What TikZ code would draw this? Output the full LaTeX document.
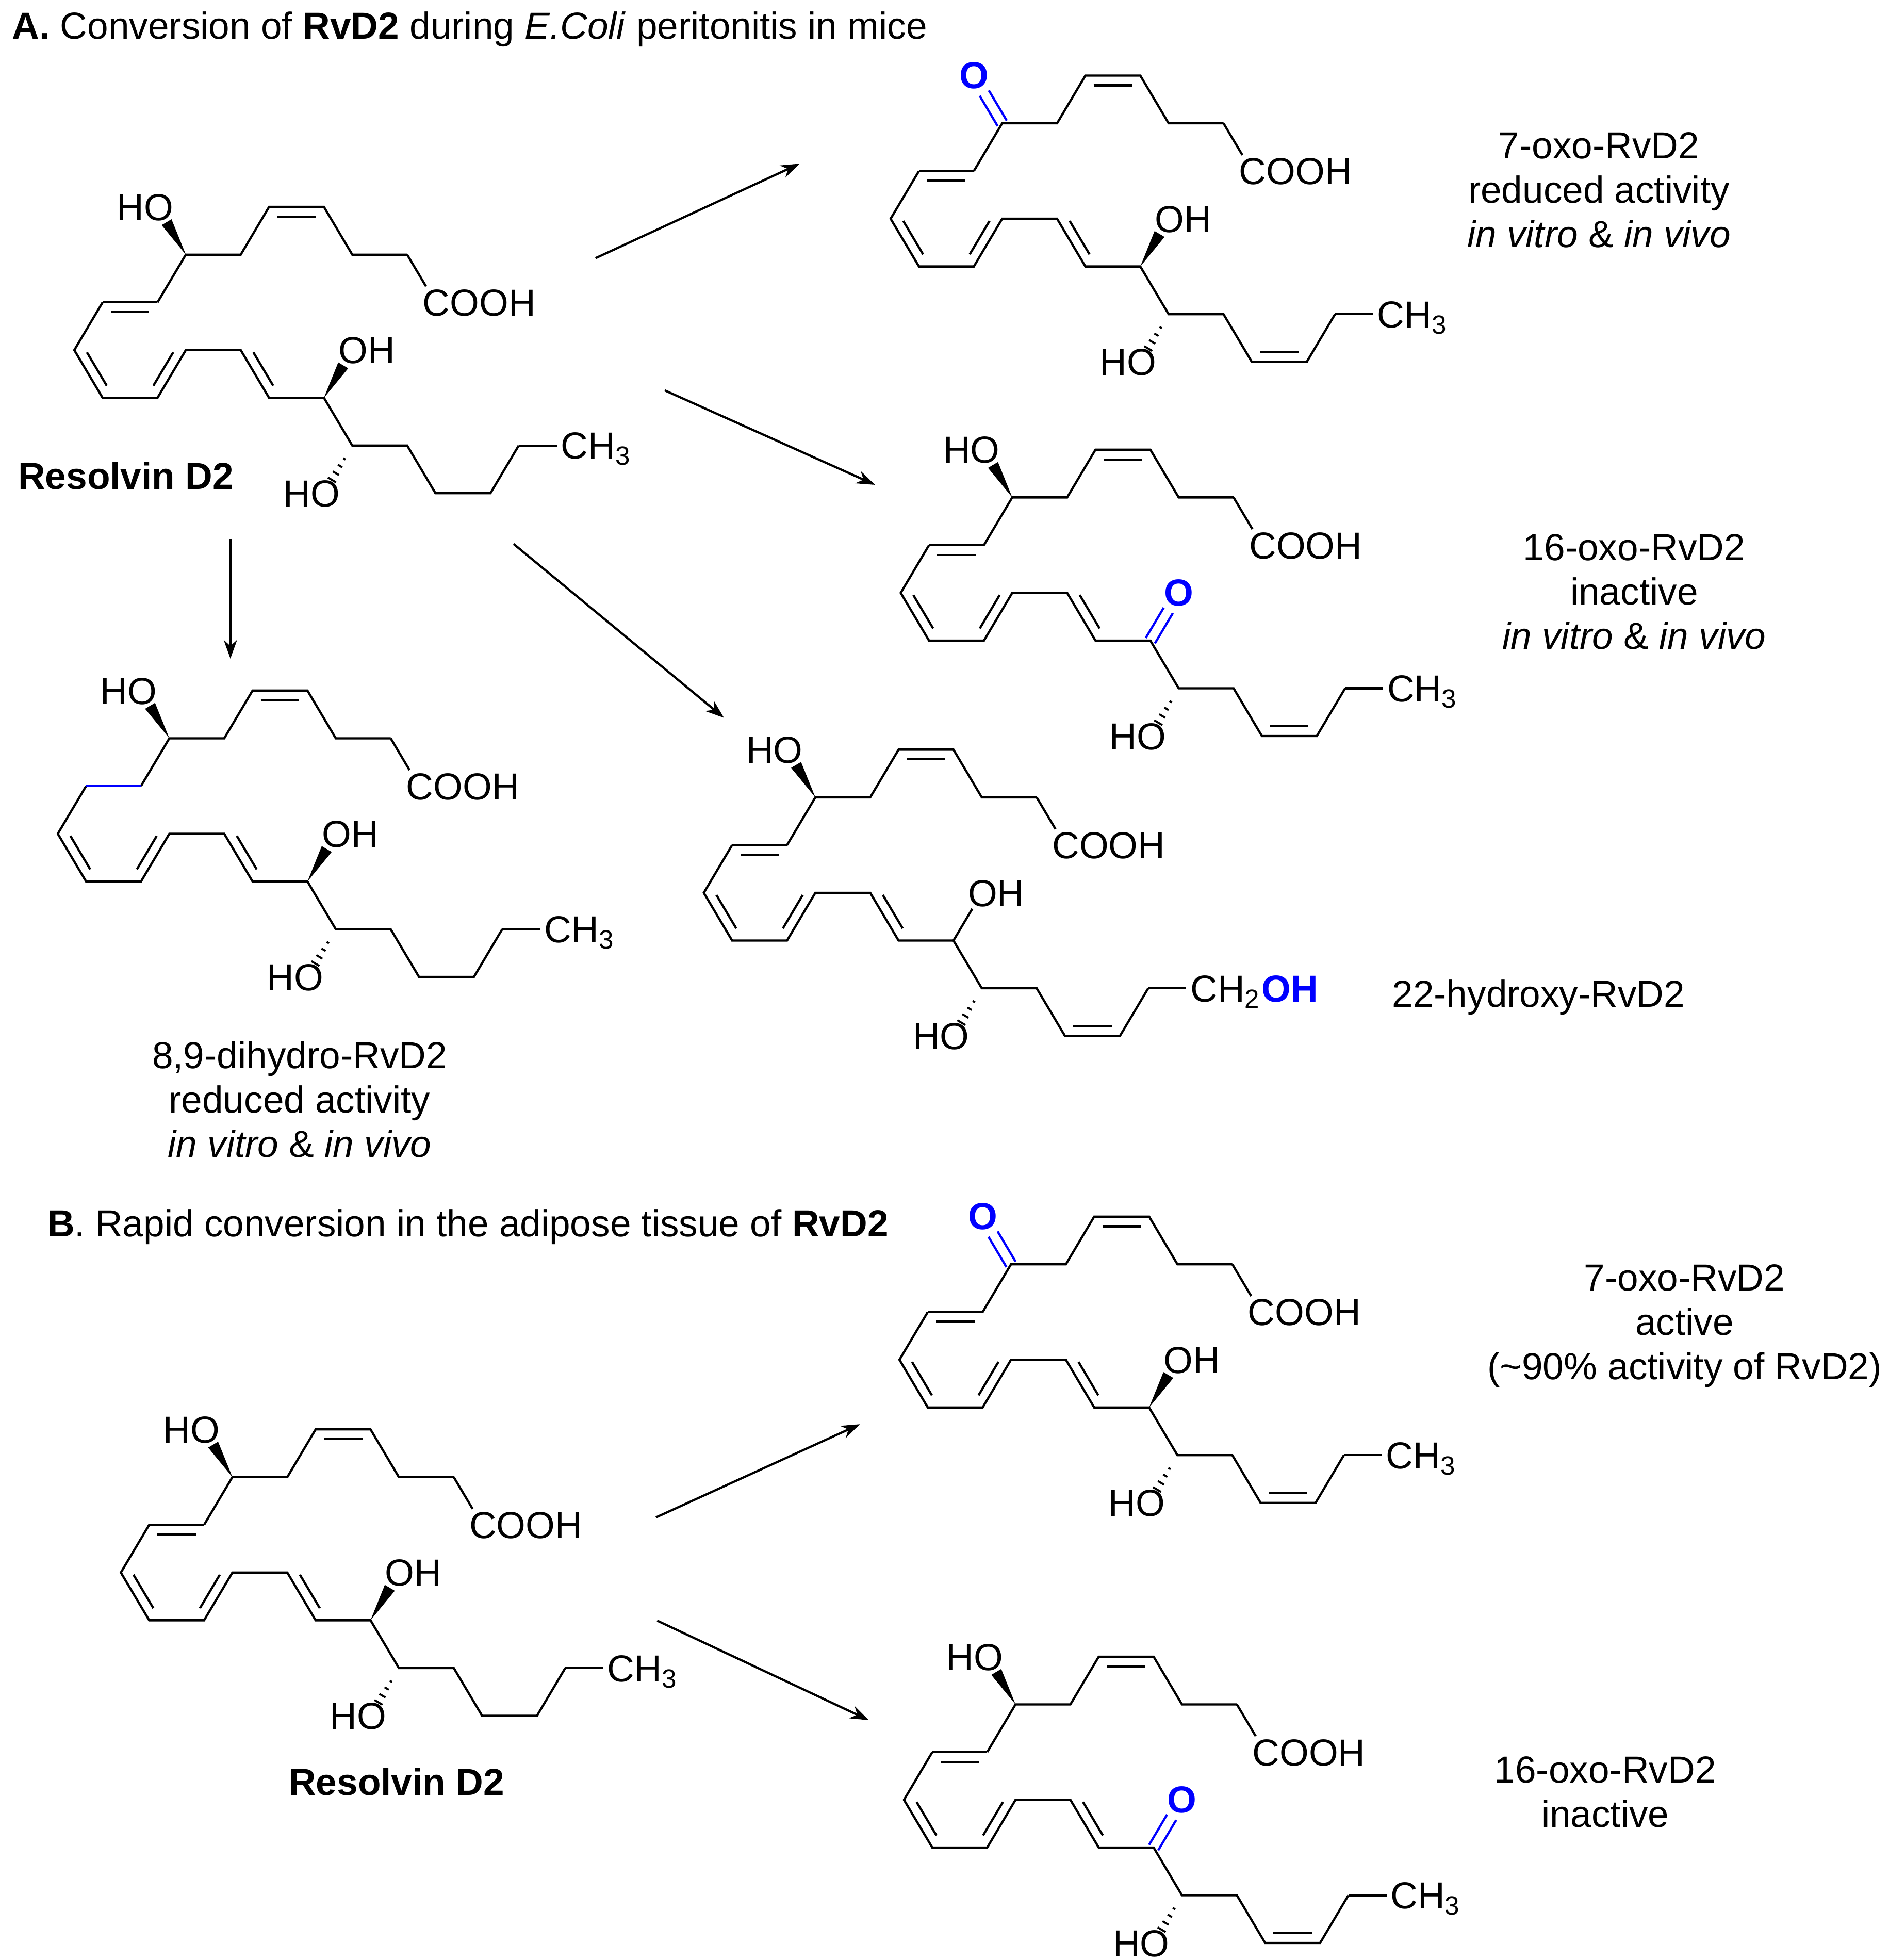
\documentclass[tikz,border=0pt]{standalone}
\usepackage{fontspec}
\setmainfont{Liberation Sans}
\usetikzlibrary{calc,arrows.meta}
\newcommand\MolAtoms[3]{%
\begin{scope}[shift={(#2,#3)}]
\coordinate (#1-7) at (0,0);
\coordinate (#1-8) at (43.6,0);
\coordinate (#1-9) at (66.1,-37.9);
\coordinate (#1-10) at (109.7,-37.9);
\coordinate (#1-11) at (132.2,0);
\coordinate (#1-12) at (175.8,0);
\coordinate (#1-13) at (198.3,37.9);
\coordinate (#1-6) at (-22.5,37.9);
\coordinate (#1-5) at (-66.1,37.9);
\coordinate (#1-4) at (-88.6,75.8);
\coordinate (#1-3) at (-66.1,113.7);
\coordinate (#1-2) at (-22.5,113.7);
\coordinate (#1-1) at (0,75.8);
\coordinate (#1-a) at (43.6,75.8);
\coordinate (#1-b) at (66.1,113.7);
\coordinate (#1-17) at (109.7,113.7);
\coordinate (#1-18) at (132.2,151.6);
\coordinate (#1-19) at (175.8,151.6);
\coordinate (#1-20) at (198.3,189.5);
\coordinate (#1-21) at (241.9,189.5);
\coordinate (#1-22) at (264.4,151.6);
\coordinate (#1-m) at (308,151.6);
\coordinate (#1-O7) at (-22.5,-37.9);
\coordinate (#1-O17) at (132.2,75.8);
\coordinate (#1-O18) at (109.7,189.5);
\end{scope}}
\newcommand\MolDbl[3]{\draw[bond] ($(#1)!0.15!(#2)!#3!90:(#2)$) -- ($(#2)!0.15!(#1)!#3!-90:(#1)$);}
\newcommand\MolBackbone[2]{%
\draw[bond, shorten >=4.2pt] (#1-12) -- (#1-13);
\draw[bond] (#1-12)--(#1-11)--(#1-10)--(#1-9)--(#1-8)--(#1-7)--(#1-6);
\draw[bond] (#1-5)--(#1-4)--(#1-3)--(#1-2)--(#1-1)--(#1-a)--(#1-b)--(#1-17)--(#1-18)--(#1-19)--(#1-20)--(#1-21)--(#1-22);
\draw[bond, shorten >=3.8pt] (#1-22) -- (#1-m);
\MolDbl{#1-9}{#1-10}{-2.2pt}
\MolDbl{#1-4}{#1-3}{2.2pt}
\MolDbl{#1-2}{#1-1}{2.2pt}
\MolDbl{#1-a}{#1-b}{2.2pt}
\node[lbl] (#1-cooh) at ($(#1-13)+(-10.8,10.7)$) {COOH};
\node[lbl] (#1-me) at ($(#1-m)+(-10.8,10.7)$) {#2};}
\newcommand\MolWedge[2]{\fill (#1) -- ($(#1)!0.68!(#2)!1.3pt!90:(#2)$) -- ($(#1)!0.68!(#2)!1.3pt!-90:(#2)$) -- cycle;}
\newcommand\MolHash[2]{\foreach \t/\w in {0.28/0.3pt,0.43/0.55pt,0.58/0.8pt,0.72/1.05pt}
  {\draw[line width=0.45pt] ($(#1)!\t!(#2)!\w!90:(#2)$) -- ($(#1)!\t!(#2)!\w!-90:(#2)$);}}
\newcommand\MolKeto[3]{%
\draw[bond,blue] ($(#1)!1.2pt!90:(#2)$) -- ($(#2)!4.6pt!(#1)!1.2pt!-90:(#1)$);
\draw[bond,blue] ($(#1)!1.2pt!-90:(#2)$) -- ($(#2)!4.6pt!(#1)!1.2pt!90:(#1)$);
\node[lbl,anchor=center,text=blue,font=\fontsize{8.5}{10}\selectfont\bfseries] (#3) at (#2) {O};}
\begin{document}
\begin{tikzpicture}[x=0.01cm,y=-0.01cm,
  bond/.style={line width=0.5pt, line join=miter, line cap=butt},
  lbl/.style={inner sep=0pt, anchor=base west},
  every node/.style={font=\fontsize{8.5}{10}\selectfont},
  txt/.style={inner sep=0pt, align=center},
  arr/.style={line width=0.5pt, -{Stealth[length=4.2pt,width=3pt]}}]
\fill[white] (0,0) rectangle (1500,1556.5);
\useasboundingbox (0,0) rectangle (1500,1556.5);

% headings
\node[lbl] (hA) at (9,31) {\textbf{A.} Conversion of \textbf{RvD2} during \textit{E.Coli} peritonitis in mice};
\node[lbl] (hB) at (37,982) {\textbf{B}. Rapid conversion in the adipose tissue of \textbf{RvD2}};

% M1 Resolvin D2 (A)
\MolAtoms{m1}{147.6}{202.2}
\MolBackbone{m1}{CH\textsubscript{3}}
\draw[bond] (m1-6)--(m1-5); \MolDbl{m1-6}{m1-5}{2.2pt}
\MolWedge{m1-7}{m1-O7}
\node[lbl] (m1-ho7) at ($(m1-O7)+(-33,10.7)$) {HO};
\MolWedge{m1-17}{m1-O17}
\node[lbl] (m1-oh17) at ($(m1-O17)+(-11.6,10.7)$) {OH};
\MolHash{m1-18}{m1-O18}
\node[lbl] (m1-ho18) at ($(m1-O18)+(-33,10.7)$) {HO};
\node[txt,font=\fontsize{8.5}{10}\selectfont\bfseries] (m1-name) at (100,378) {Resolvin D2};

% M2 7-oxo (A)
\MolAtoms{m2}{796}{97.9}
\MolBackbone{m2}{CH\textsubscript{3}}
\draw[bond] (m2-6)--(m2-5); \MolDbl{m2-6}{m2-5}{2.2pt}
\MolDbl{m2-20}{m2-21}{2.2pt}
\MolKeto{m2-7}{m2-O7}{m2-o}
\MolWedge{m2-17}{m2-O17}
\node[lbl] (m2-oh17) at ($(m2-O17)+(-11.6,10.7)$) {OH};
\MolHash{m2-18}{m2-O18}
\node[lbl] (m2-ho18) at ($(m2-O18)+(-33,10.7)$) {HO};
\node[txt] (m2-name) at (1270,151) {7-oxo-RvD2\\reduced activity\\\textit{in vitro} \& \textit{in vivo}};

% M3 16-oxo (A)
\MolAtoms{m3}{804}{395}
\MolBackbone{m3}{CH\textsubscript{3}}
\draw[bond] (m3-6)--(m3-5); \MolDbl{m3-6}{m3-5}{2.2pt}
\MolDbl{m3-20}{m3-21}{2.2pt}
\MolWedge{m3-7}{m3-O7}
\node[lbl] (m3-ho7) at ($(m3-O7)+(-33,10.7)$) {HO};
\MolKeto{m3-17}{m3-O17}{m3-o}
\MolHash{m3-18}{m3-O18}
\node[lbl] (m3-ho18) at ($(m3-O18)+(-33,10.7)$) {HO};
\node[txt] (m3-name) at (1298,470) {16-oxo-RvD2\\inactive\\\textit{in vitro} \& \textit{in vivo}};

% M4 22-hydroxy (A)
\MolAtoms{m4}{647.6}{633.2}
\MolBackbone{m4}{CH\textsubscript{2}\textcolor{blue}{\textbf{OH}}}
\draw[bond] (m4-6)--(m4-5); \MolDbl{m4-6}{m4-5}{2.2pt}
\MolDbl{m4-20}{m4-21}{2.2pt}
\MolWedge{m4-7}{m4-O7}
\node[lbl] (m4-ho7) at ($(m4-O7)+(-33,10.7)$) {HO};
\draw[bond, shorten >=4.2pt] (m4-17) -- (m4-O17);
\node[lbl] (m4-oh17) at ($(m4-O17)+(-11.6,10.7)$) {OH};
\MolHash{m4-18}{m4-O18}
\node[lbl] (m4-ho18) at ($(m4-O18)+(-33,10.7)$) {HO};
\node[txt] (m4-name) at (1222,792) {22-hydroxy-RvD2};

% M5 8,9-dihydro (A)
\MolAtoms{m5}{134.5}{586.3}
\MolBackbone{m5}{CH\textsubscript{3}}
\draw[bond,blue] (m5-6)--(m5-5);
\MolWedge{m5-7}{m5-O7}
\node[lbl] (m5-ho7) at ($(m5-O7)+(-33,10.7)$) {HO};
\MolWedge{m5-17}{m5-O17}
\node[lbl] (m5-oh17) at ($(m5-O17)+(-11.6,10.7)$) {OH};
\MolHash{m5-18}{m5-O18}
\node[lbl] (m5-ho18) at ($(m5-O18)+(-33,10.7)$) {HO};
\node[txt] (m5-name) at (238,873) {8,9-dihydro-RvD2\\reduced activity\\\textit{in vitro} \& \textit{in vivo}};

% B1 Resolvin D2
\MolAtoms{b1}{184.6}{1173}
\MolBackbone{b1}{CH\textsubscript{3}}
\draw[bond] (b1-6)--(b1-5); \MolDbl{b1-6}{b1-5}{2.2pt}
\MolWedge{b1-7}{b1-O7}
\node[lbl] (b1-ho7) at ($(b1-O7)+(-33,10.7)$) {HO};
\MolWedge{b1-17}{b1-O17}
\node[lbl] (b1-oh17) at ($(b1-O17)+(-11.6,10.7)$) {OH};
\MolHash{b1-18}{b1-O18}
\node[lbl] (b1-ho18) at ($(b1-O18)+(-33,10.7)$) {HO};
\node[txt,font=\fontsize{8.5}{10}\selectfont\bfseries] (b1-name) at (315,1415) {Resolvin D2};

% B2 7-oxo
\MolAtoms{b2}{803}{1004}
\MolBackbone{b2}{CH\textsubscript{3}}
\draw[bond] (b2-6)--(b2-5); \MolDbl{b2-6}{b2-5}{2.2pt}
\MolDbl{b2-20}{b2-21}{2.2pt}
\MolKeto{b2-7}{b2-O7}{b2-o}
\MolWedge{b2-17}{b2-O17}
\node[lbl] (b2-oh17) at ($(b2-O17)+(-11.6,10.7)$) {OH};
\MolHash{b2-18}{b2-O18}
\node[lbl] (b2-ho18) at ($(b2-O18)+(-33,10.7)$) {HO};
\node[txt] (b2-name) at (1338,1053) {7-oxo-RvD2\\active\\(\textasciitilde 90\% activity of RvD2)};

% B3 16-oxo
\MolAtoms{b3}{806.6}{1353.5}
\MolBackbone{b3}{CH\textsubscript{3}}
\draw[bond] (b3-6)--(b3-5); \MolDbl{b3-6}{b3-5}{2.2pt}
\MolDbl{b3-20}{b3-21}{2.2pt}
\MolWedge{b3-7}{b3-O7}
\node[lbl] (b3-ho7) at ($(b3-O7)+(-33,10.7)$) {HO};
\MolKeto{b3-17}{b3-O17}{b3-o}
\MolHash{b3-18}{b3-O18}
\node[lbl] (b3-ho18) at ($(b3-O18)+(-33,10.7)$) {HO};
\node[txt] (b3-name) at (1275,1423) {16-oxo-RvD2\\inactive};

% arrows
\coordinate (a1s) at (473,205); \coordinate (a1e) at (635,130);
\coordinate (a2s) at (528,310); \coordinate (a2e) at (695,385);
\coordinate (a3s) at (408,432); \coordinate (a3e) at (575,570);
\coordinate (a4s) at (183,428); \coordinate (a4e) at (183,523);
\coordinate (a5s) at (521,1205); \coordinate (a5e) at (683,1131);
\coordinate (a6s) at (522,1287); \coordinate (a6e) at (690,1366);
\draw[arr] (a1s) -- (a1e);
\draw[arr] (a2s) -- (a2e);
\draw[arr] (a3s) -- (a3e);
\draw[arr] (a4s) -- (a4e);
\draw[arr] (a5s) -- (a5e);
\draw[arr] (a6s) -- (a6e);
\end{tikzpicture}
\end{document}
